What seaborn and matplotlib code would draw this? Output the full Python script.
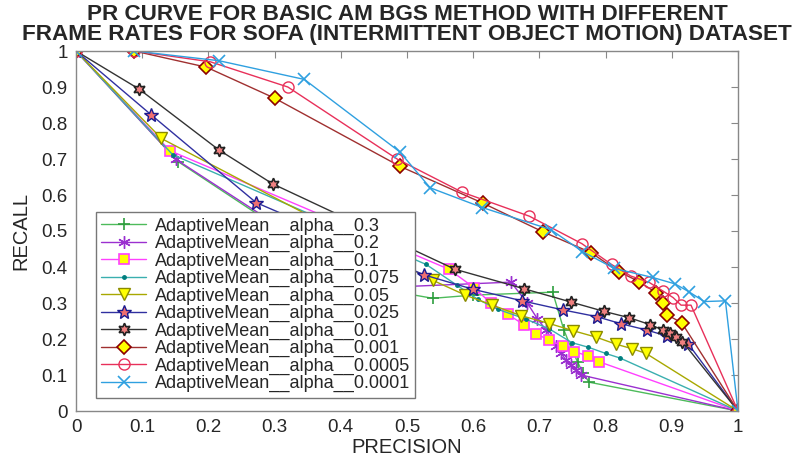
import numpy as np
import pandas as pd
import matplotlib
matplotlib.use("Agg")
import matplotlib.pyplot as plt
import seaborn as sns
from matplotlib.ticker import FuncFormatter, MultipleLocator

sns.set_style("white")
plt.rcParams['font.family'] = ['Liberation Sans', 'DejaVu Sans']

labels = ["AdaptiveMean__alpha__0.3", "AdaptiveMean__alpha__0.2", "AdaptiveMean__alpha__0.1",
          "AdaptiveMean__alpha__0.075", "AdaptiveMean__alpha__0.05", "AdaptiveMean__alpha__0.025",
          "AdaptiveMean__alpha__0.01", "AdaptiveMean__alpha__0.001", "AdaptiveMean__alpha__0.0005",
          "AdaptiveMean__alpha__0.0001"]

p_03 = [0, 0.154, 0.44, 0.539, 0.60, 0.72, 0.737, 0.748, 0.758, 0.766, 0.775, 1]
r_03 = [1, 0.693, 0.345, 0.313, 0.322, 0.330, 0.225, 0.175, 0.135, 0.105, 0.080, 0]

p_02 = [0, 0.151, 0.45, 0.657, 0.682, 0.697, 0.710, 0.725, 0.733, 0.740, 0.748, 0.755, 0.763, 1]
r_02 = [1, 0.699, 0.342, 0.358, 0.299, 0.256, 0.225, 0.181, 0.160, 0.142, 0.128, 0.114, 0.100, 0]

p_01 = [0, 0.142, 0.563, 0.601, 0.627, 0.652, 0.677, 0.695, 0.714, 0.735, 0.753, 0.773, 0.790, 1]
r_01 = [1, 0.723, 0.394, 0.343, 0.299, 0.269, 0.239, 0.215, 0.197, 0.181, 0.165, 0.153, 0.137, 0]

p_0075 = [0, 0.146, 0.529, 0.575, 0.607, 0.638, 0.680, 0.715, 0.749, 0.774, 0.800, 0.822, 1]
r_0075 = [1, 0.712, 0.407, 0.350, 0.310, 0.282, 0.255, 0.228, 0.190, 0.177, 0.160, 0.147, 0]

p_005 = [0, 0.129, 0.539, 0.588, 0.629, 0.672, 0.715, 0.751, 0.786, 0.815, 0.840, 0.861, 1]
r_005 = [1, 0.757, 0.363, 0.322, 0.294, 0.265, 0.243, 0.223, 0.205, 0.186, 0.173, 0.160, 0]

p_0025 = [0, 0.114, 0.272, 0.526, 0.600, 0.674, 0.735, 0.787, 0.824, 0.862, 0.893, 0.925, 1]
r_0025 = [1, 0.822, 0.579, 0.378, 0.338, 0.306, 0.281, 0.262, 0.242, 0.225, 0.208, 0.186, 0]

p_001 = [0, 0.0955, 0.216, 0.297, 0.572, 0.676, 0.747, 0.797, 0.836, 0.867, 0.887, 0.898, 0.907, 0.916, 1]
r_001 = [1, 0.894, 0.725, 0.631, 0.394, 0.340, 0.303, 0.277, 0.259, 0.240, 0.225, 0.216, 0.206, 0.193, 0]

p_0001 = [0, 0.088, 0.197, 0.300, 0.489, 0.615, 0.705, 0.778, 0.820, 0.851, 0.876, 0.887, 0.893, 0.915, 1]
r_0001 = [1, 1.0, 0.955, 0.869, 0.680, 0.577, 0.498, 0.440, 0.387, 0.359, 0.329, 0.299, 0.267, 0.245, 0]

p_00005 = [0, 0.088, 0.203, 0.320, 0.485, 0.583, 0.685, 0.764, 0.809, 0.838, 0.866, 0.886, 0.902, 0.914, 0.929, 1]
r_00005 = [1, 1.0, 0.970, 0.900, 0.700, 0.608, 0.541, 0.465, 0.407, 0.375, 0.357, 0.334, 0.315, 0.294, 0.294, 0]

p_00001 = [0, 0.088, 0.216, 0.345, 0.489, 0.535, 0.614, 0.717, 0.765, 0.813, 0.871, 0.905, 0.926, 0.949, 0.981, 1]
r_00001 = [1, 1.0, 0.973, 0.921, 0.720, 0.620, 0.565, 0.504, 0.443, 0.396, 0.371, 0.353, 0.331, 0.304, 0.306, 0]

precisions = [p_03, p_02, p_01, p_0075, p_005, p_0025, p_001, p_0001, p_00005, p_00001]
recalls = [r_03, r_02, r_01, r_0075, r_005, r_0025, r_001, r_0001, r_00005, r_00001]

styles = [
    dict(color="#4DBB5B", marker="+", markersize=9, markeredgecolor="#2E9E3E", markerfacecolor="none", markeredgewidth=1.2),
    dict(color="#9B30D0", marker=(6, 2, 0), markersize=9, markeredgecolor="#9B30D0", markerfacecolor="none", markeredgewidth=1.0),
    dict(color="#FF40FF", marker="s", markersize=7, markeredgecolor="#FF40FF", markerfacecolor="#FFFF00", markeredgewidth=1.2),
    dict(color="#3AAFAF", marker=".", markersize=5, markeredgecolor="#007F7F", markerfacecolor="#007F7F", markeredgewidth=1.0),
    dict(color="#A8A800", marker="v", markersize=9, markeredgecolor="#8A8A00", markerfacecolor="#FFFF00", markeredgewidth=1.0),
    dict(color="#3030A0", marker="*", markersize=10, markeredgecolor="#1A1A90", markerfacecolor="#F07070", markeredgewidth=1.0),
    dict(color="#333333", marker=(6, 1, 0), markersize=9, markeredgecolor="#222222", markerfacecolor="#F08080", markeredgewidth=1.2),
    dict(color="#A03030", marker="D", markersize=7, markeredgecolor="#8B0000", markerfacecolor="#FFFF00", markeredgewidth=1.2),
    dict(color="#E8305A", marker="o", markersize=8, markeredgecolor="#E8305A", markerfacecolor="none", markeredgewidth=1.0),
    dict(color="#2FA0E0", marker="x", markersize=8, markeredgecolor="#2FA0E0", markerfacecolor="none", markeredgewidth=1.2),
]

fig = plt.figure(figsize=(8.01, 4.59), dpi=100)
ax = fig.add_axes([76/801, 48/459, (738-76)/801, (411-51)/459])

for lab, px, ry, st in zip(labels, precisions, recalls, styles):
    df = pd.DataFrame({"precision": px, "recall": ry})
    sns.lineplot(data=df, x="precision", y="recall", sort=False, estimator=None,
                 ax=ax, label=lab, linewidth=1.0, **st)

ax.set_xlim(0, 1)
ax.set_ylim(0, 1)
ax.xaxis.set_major_locator(MultipleLocator(0.1))
ax.yaxis.set_major_locator(MultipleLocator(0.1))
fmt = FuncFormatter(lambda v, pos: "%g" % round(v, 2))
ax.xaxis.set_major_formatter(fmt)
ax.yaxis.set_major_formatter(fmt)
ax.tick_params(direction="in", length=5, width=0.8, colors="#888888", labelcolor="#262626",
               labelsize=13.5, top=True, right=True, pad=6)
for s in ax.spines.values():
    s.set_color("#888888")
    s.set_linewidth(1.0)

ax.set_xlabel("PRECISION", fontsize=14.5, color="#262626", labelpad=1)
ax.set_ylabel("RECALL", fontsize=14.5, color="#262626", labelpad=8)
ax.set_title("PR CURVE FOR BASIC AM BGS METHOD WITH DIFFERENT\nFRAME RATES FOR SOFA (INTERMITTENT OBJECT MOTION) DATASET",
             fontsize=16.2, fontweight="bold", linespacing=0.92, pad=8)

leg = ax.legend(loc="upper left", bbox_to_anchor=(0.03, 0.553), fontsize=13,
                frameon=True, fancybox=False, framealpha=1, edgecolor="#777777",
                handlelength=2.5, handletextpad=0.45, labelspacing=0.02, borderpad=0.3,
                borderaxespad=0)
leg.get_frame().set_linewidth(1.0)

fig.savefig("out.png", dpi=100)
